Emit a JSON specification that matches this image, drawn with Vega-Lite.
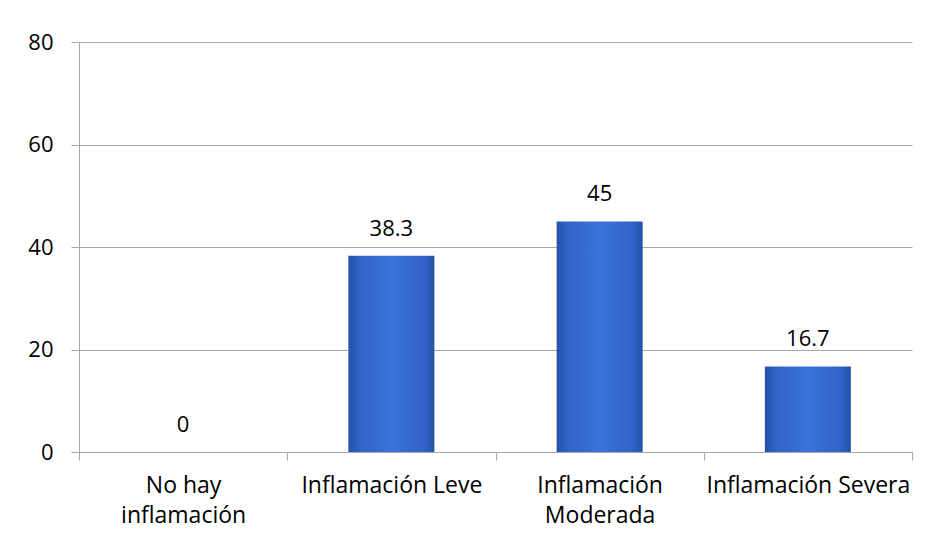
{
  "$schema": "https://vega.github.io/schema/vega-lite/v6.json",
  "width": 833,
  "height": 410,
  "autosize": {"type": "none"},
  "padding": {"left": 79, "top": 42, "right": 15, "bottom": 90},
  "background": "white",
  "config": {
    "view": {"stroke": null},
    "font": "Open Sans"
  },
  "data": {
    "values": [
      {"categoria": "No hay inflamación", "valor": 0},
      {"categoria": "Inflamación Leve", "valor": 38.3},
      {"categoria": "Inflamación Moderada", "valor": 45},
      {"categoria": "Inflamación Severa", "valor": 16.7}
    ]
  },
  "encoding": {
    "x": {
      "field": "categoria",
      "type": "nominal",
      "sort": null,
      "scale": {"paddingInner": 0, "paddingOuter": 0},
      "axis": {
        "title": null,
        "labelAngle": 0,
        "labelFont": "Open Sans",
        "labelFontSize": 23,
        "labelColor": "#000000",
        "labelPadding": 14,
        "labelLineHeight": 30,
        "labelLimit": 400,
        "labelOverlap": false,
        "labelExpr": "datum.label == 'No hay inflamación' ? ['No hay','inflamación'] : datum.label == 'Inflamación Moderada' ? ['Inflamación','Moderada'] : datum.label",
        "tickBand": "extent",
        "tickSize": 8,
        "tickColor": "#a6a6a6",
        "domainColor": "#a6a6a6",
        "grid": false
      }
    },
    "y": {
      "field": "valor",
      "type": "quantitative",
      "scale": {"domain": [0, 80], "nice": false},
      "axis": {
        "title": null,
        "values": [0, 20, 40, 60, 80],
        "labelFont": "Open Sans",
        "labelFontSize": 22,
        "labelColor": "#000000",
        "labelPadding": 18,
        "tickSize": 8,
        "tickColor": "#a6a6a6",
        "domainColor": "#a6a6a6",
        "gridColor": "#a6a6a6",
        "gridOpacity": 1
      }
    }
  },
  "layer": [
    {
      "mark": {
        "type": "bar",
        "width": 86,
        "color": {
          "gradient": "linear",
          "x1": 0, "x2": 1, "y1": 0, "y2": 0,
          "stops": [
            {"offset": 0, "color": "#2450a8"},
            {"offset": 0.12, "color": "#3164c8"},
            {"offset": 0.5, "color": "#3b71da"},
            {"offset": 0.88, "color": "#3164c8"},
            {"offset": 1, "color": "#2450a8"}
          ]
        }
      }
    },
    {
      "mark": {
        "type": "text",
        "baseline": "bottom",
        "dy": -15,
        "font": "Open Sans",
        "fontSize": 22,
        "color": "#000000"
      },
      "encoding": {
        "text": {"field": "valor", "type": "quantitative"}
      }
    }
  ]
}
